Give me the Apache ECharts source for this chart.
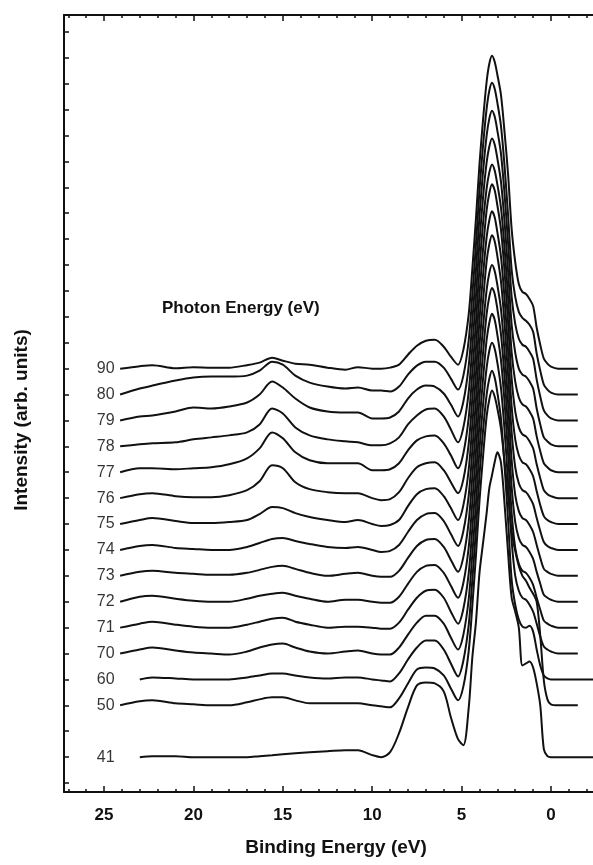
<!DOCTYPE html>
<html>
<head>
<meta charset="UTF-8">
<title>Photon energy series</title>
<script src="https://cdn.jsdelivr.net/npm/echarts@6/dist/echarts.min.js"></script>
<style>
html, body { margin: 0; padding: 0; background: #fff; }
#main { width: 593px; height: 865px; }
</style>
</head>
<body>
<div id="main"></div>
<script>
// binding energy grid (eV), shared by all spectra
var energies = [24.1, 23.0, 22.3, 21.0, 20.0, 19.0, 18.0, 17.0, 16.3, 15.6, 15.0, 14.3, 13.5, 12.5, 11.5, 10.8,
  10.0, 9.5, 9.0, 8.5, 8.0, 7.5, 7.0, 6.5, 6.0, 5.6, 5.2, 4.9, 4.6, 4.4, 4.2, 4.0, 3.8, 3.6, 3.45, 3.3, 3.15,
  3.0, 2.8, 2.6, 2.4, 2.2, 2.0, 1.8, 1.6, 1.4, 1.2, 1.0, 0.8, 0.6, 0.4, 0.2, 0.0, -0.4, -1.5, -2.4];

// photon energy of each spectrum and the tick it sits on
var photonEnergies = ['90', '80', '79', '78', '77', '76', '75', '74', '73', '72', '71', '70', '60', '50', '41'];
var levels = [16, 15, 14, 13, 12, 11, 10, 9, 8, 7, 6, 5, 4, 3, 1];

// x tick labels (eV)
var xLabels = [0, 5, 10, 15, 20, 25];

// intensity above each baseline (arb. units, 26 = one tick)
var i90 = [0, 2.5, 3.5, 0.5, 1.5, 1, 1, 3.5, 6, 11, 8, 5, 4, 1, -1, 1.5, 0, 0, 1, 4, 14, 23, 28, 29, 22, 12, 4,
  19, 55, 100, 150, 205, 250, 288, 306, 314, 308, 295, 275, 238, 195, 140, 107, 85, 77, 75, 70, 63, 41, 24, 10, 5, 2, 0, 0, null];
var i80 = [0, 6, 9, 14, 17, 18, 18, 19, 24, 33, 30, 19, 12, 8, 6, 7, 4, 4, 3, 8, 20, 29, 33, 33, 27, 16, 5,
  19, 55, 100, 150, 205, 250, 287, 305, 313, 307, 293, 270, 230, 180, 125, 98, 83, 77, 74, 70, 63, 41, 24, 10, 5, 2, 0, 0, null];
var i79 = [0, 4, 5, 9, 13, 12, 14, 18, 26, 39, 33, 22, 13, 9, 8, 8, 2, 2, 3, 9, 22, 31, 35, 34, 27, 16, 4,
  19, 55, 100, 150, 205, 250, 286, 303, 311, 305, 291, 268, 228, 178, 124, 97, 82, 76, 74, 69, 62, 41, 24, 10, 5, 2, 0, 0, null];
var i78 = [0, 2, 3, 4, 7, 9, 11, 14, 22, 38, 33, 19, 11, 7, 5, 4, 1, 1, 3, 9, 22, 31, 37, 38, 30, 17, 4,
  19, 55, 100, 150, 205, 250, 285, 301, 309, 303, 289, 266, 226, 176, 122, 94, 78, 72, 70, 65, 58, 38, 22, 9, 5, 2, 0, 0, null];
var i77 = [0, 4, 4, 3, 4, 5, 8, 14, 24, 40, 34, 20, 12, 9, 9, 9, 2, 2, 3, 9, 22, 32, 36, 37, 29, 17, 4,
  19, 55, 100, 150, 205, 250, 285, 301, 309, 303, 289, 266, 226, 175, 120, 91, 75, 68, 66, 61, 54, 36, 21, 9, 5, 2, 0, 0, null];
var i76 = [0, 4, 5, 2, 1, 1, 3, 8, 17, 33, 30, 16, 9, 6, 5, 5, 0, -2, -1, 6, 20, 31, 35, 36, 28, 16, 5,
  19, 55, 100, 150, 205, 250, 289, 306, 315, 309, 294, 270, 228, 176, 120, 87, 71, 64, 62, 57, 50, 34, 20, 8, 4, 2, 0, 0, null];
var i75 = [0, 4, 6, 3, 1, 1, 2, 4, 10, 17, 16, 11, 7, 4, 2, 4, 0, -2, -1, 4, 18, 30, 35, 36, 28, 16, 4,
  19, 55, 100, 150, 205, 250, 288, 305, 314, 308, 293, 269, 227, 175, 118, 85, 69, 62, 60, 55, 48, 33, 19, 8, 4, 2, 0, 0, null];
var i74 = [0, 4, 5, 2, 1, 0, 0, 3, 7, 11, 12, 9, 6, 3, 2, 3, 0, -2, -1, 5, 18, 30, 36, 37, 29, 16, 4,
  19, 55, 100, 150, 205, 250, 290, 307, 316, 310, 295, 270, 228, 175, 118, 83, 67, 60, 58, 53, 46, 32, 19, 8, 4, 2, 0, 0, null];
var i73 = [0, 4, 5, 3, 2, 1, 1, 3, 6, 9, 10, 7, 3, 0, 2, 3, 0, -1, -1, 5, 18, 30, 36, 37, 29, 16, 4,
  19, 55, 100, 150, 205, 250, 287, 304, 312, 306, 292, 268, 226, 174, 116, 81, 65, 58, 56, 51, 44, 31, 18, 7, 4, 2, 0, 0, null];
var i72 = [0, 5, 6, 3, 1, 0, 0, 3, 6, 8, 9, 6, 3, 0, 2, 2, 0, -1, -1, 5, 18, 30, 36, 37, 29, 16, 4,
  19, 55, 100, 150, 205, 250, 289, 306, 315, 309, 294, 269, 227, 174, 115, 80, 64, 57, 55, 50, 43, 30, 18, 7, 4, 2, 0, 0, null];
var i71 = [0, 4, 6, 3, 1, 0, 0, 3, 6, 9, 10, 6, 3, 0, 1, 1, 0, -1, -1, 5, 18, 30, 37, 38, 30, 16, 4,
  19, 55, 100, 150, 205, 250, 289, 306, 315, 309, 294, 269, 227, 174, 115, 80, 64, 57, 55, 50, 43, 30, 18, 7, 4, 2, 0, 0, null];
var i70 = [0, 4, 6, 3, 1, 0, -1, 2, 6, 9, 10, 6, 2, 0, 2, 3, 0, -1, -1, 6, 19, 31, 38, 38, 30, 16, 4,
  19, 55, 100, 150, 205, 250, 287, 304, 312, 306, 292, 267, 225, 172, 113, 78, 63, 56, 54, 49, 42, 30, 17, 7, 4, 2, 0, 0, null];
var i60 = [null, 0, 2, 1, 0, 0, 0, 2, 4, 6, 6, 4, 2, 1, 2, 2, 0, -1, -2, 6, 20, 32, 39, 39, 30, 16, 3,
  19, 55, 100, 150, 205, 250, 286, 302, 310, 303, 288, 262, 215, 160, 100, 75, 60, 53, 52, 54, 48, 30, 14, 4, 1, 0, 0, 0, 0];
var i50 = [0, 4, 5, 2, 1, 0, 0, 3, 6, 8, 8, 5, 2, 2, 2, 2, 0, -1, -2, 7, 22, 36, 38, 37, 30, 17, 5,
  19, 55, 100, 150, 205, 250, 290, 307, 316, 310, 298, 278, 245, 210, 175, 155, 140, 130, 125, 118, 112, 104, 70, 25, 6, 1, 0, 0, null];
var i41 = [null, 0, 1, 1, 0, 0, 0, 0, 1, 2, 3, 4, 5, 6, 7, 7, 2, 0, 5, 24, 50, 72, 75, 74, 66, 40, 18,
  12, 50, 100, 135, 185, 215, 245, 270, 283, 296, 306, 296, 255, 205, 160, 146, 130, 92, 94, 96, 90, 74, 52, 8, 1, 0, 0, 0, 0];

var spectra = [i90, i80, i79, i78, i77, i76, i75, i74, i73, i72, i71, i70, i60, i50, i41];

var TICK = 26;
var yTicks = [];
for (var t = 0; t < 30; t++) yTicks.push(t * TICK);
var xMinor = [];
for (var m = -2; m <= 27; m++) xMinor.push(m);

var myChart = echarts.init(document.getElementById('main'));

var seriesList = [];
spectra.forEach(function (vals, n) {
  var base = levels[n] * TICK;
  var pts = [];
  for (var i = 0; i < energies.length; i++) {
    if (vals[i] === null) continue;
    pts.push([energies[i], base + vals[i]]);
  }
  seriesList.push({
    name: photonEnergies[n],
    type: 'line',
    data: pts,
    symbol: 'none',
    smooth: 0.3,
    silent: true,
    lineStyle: { color: '#111', width: 2 }
  });
});

// curve labels on the left
seriesList.push({
  type: 'scatter',
  symbolSize: 1,
  itemStyle: { color: 'rgba(0,0,0,0)' },
  silent: true,
  data: photonEnergies.map(function (p, n) {
    return { name: p, value: [energies[0], levels[n] * TICK] };
  }),
  label: {
    show: true,
    position: 'left',
    distance: 5,
    formatter: '{b}',
    color: '#000',
    fontSize: 16,
    fontFamily: '"Liberation Sans", Arial, sans-serif'
  }
});

var axisColor = '#111';
var FONT = '"Liberation Sans", Arial, sans-serif';
function xAxisDef(pos, ticks, len, showLine, showLabel) {
  return {
    type: 'value',
    inverse: true,
    min: -2.35,
    max: 27.24,
    position: pos,
    axisLine: { show: showLine, onZero: false, lineStyle: { color: axisColor, width: 2 } },
    axisTick: { inside: true, length: len, customValues: ticks, lineStyle: { color: axisColor, width: 1.5 } },
    splitLine: { show: false },
    axisLabel: {
      show: showLabel,
      customValues: xLabels,
      margin: 15,
      color: '#111',
      fontSize: 17,
      fontWeight: 'bold',
      fontFamily: FONT
    }
  };
}

var option = {
  animation: false,
  backgroundColor: '#fff',
  grid: { left: 64, top: 15, right: 0, bottom: 73 },
  xAxis: [
    xAxisDef('bottom', xLabels, 6, true, true),
    xAxisDef('bottom', xMinor, 3, false, false),
    xAxisDef('top', xLabels, 6, true, false),
    xAxisDef('top', xMinor, 3, false, false)
  ],
  yAxis: {
    type: 'value',
    min: -9,
    max: 771,
    axisLine: { show: true, onZero: false, lineStyle: { color: axisColor, width: 2 } },
    axisTick: { show: true, inside: true, length: 5, customValues: yTicks, lineStyle: { color: axisColor, width: 1.5 } },
    axisLabel: { show: false },
    splitLine: { show: false }
  },
  graphic: [{
    type: 'text',
    x: 22,
    y: 420,
    rotation: Math.PI / 2,
    style: {
      text: 'Intensity (arb. units)',
      fill: '#111',
      fontSize: 19,
      fontWeight: 'bold',
      fontFamily: FONT,
      align: 'center',
      verticalAlign: 'middle'
    }
  }, {
    type: 'text',
    x: 162,
    y: 308,
    style: {
      text: 'Photon Energy (eV)',
      fill: '#111',
      fontSize: 17,
      fontWeight: 'bold',
      fontFamily: FONT,
      align: 'left',
      verticalAlign: 'middle'
    }
  }, {
    type: 'text',
    x: 336,
    y: 848,
    style: {
      text: 'Binding Energy (eV)',
      fill: '#111',
      fontSize: 19,
      fontWeight: 'bold',
      fontFamily: FONT,
      align: 'center',
      verticalAlign: 'middle'
    }
  }],
  series: seriesList
};

myChart.setOption(option);
</script>
</body>
</html>
